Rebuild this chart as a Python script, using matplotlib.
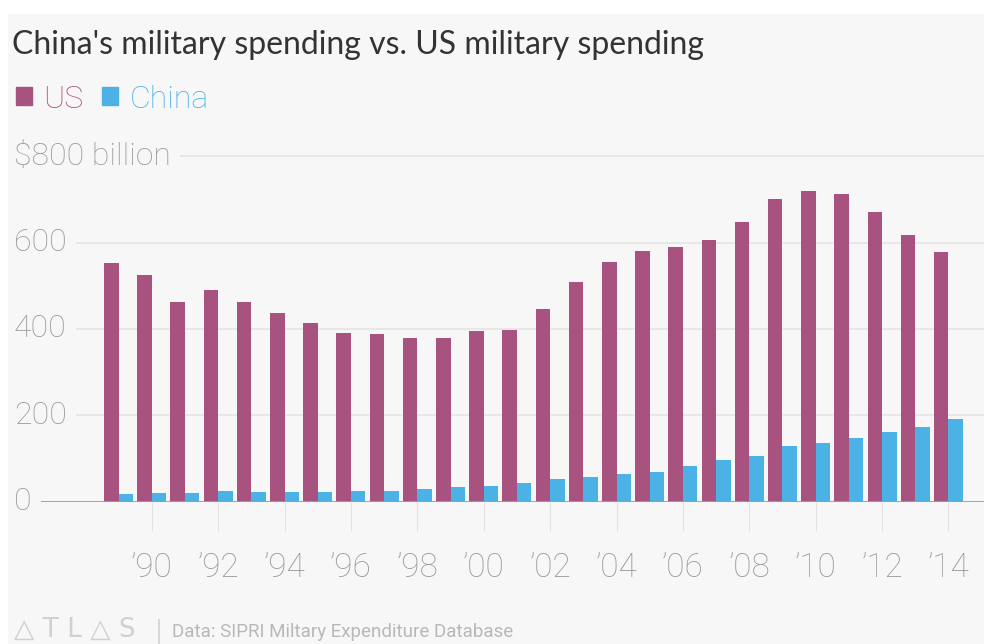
import matplotlib
matplotlib.use("Agg")
import matplotlib.pyplot as plt
from matplotlib.patches import Rectangle, Patch

# ── Data (billions USD) ─────────────────────────────────────────────────────
YEARS = list(range(1989, 2015))
US = [552, 526, 462, 490, 462, 437, 414, 391, 389, 379, 379, 396, 398,
      446, 508, 554, 581, 590, 605, 648, 700, 720, 712, 670, 618, 578]
CHINA = [17, 19.5, 21, 25, 22.5, 22, 22, 25, 25.5, 29.5, 33, 35.5, 44,
         52, 56.5, 64, 69.5, 83, 97, 106.5, 128, 135, 147, 161, 173, 191]
XTICKS = YEARS[1::2]
XTICK_LABELS = ["\u2019" + str(y)[2:] for y in XTICKS]
YTICKS = [0, 200, 400, 600, 800]
YTICK_LABELS = ["0", "200", "400", "600", "$800 billion"]

US_COLOR = "#a85280"
CHINA_COLOR = "#4cb1e4"
BG = "#f7f7f7"
LABEL_GREY = "#9a9a9a"

W, H = 984, 644
fig = plt.figure(figsize=(W / 100, H / 100), dpi=100, facecolor=BG)
# white strips on top and left edge, drawn above everything
for rect in [(0, 1 - 14 / H, 1, 14 / H), (0, 0, 8 / W, 1)]:
    fig.add_artist(Rectangle(rect[:2], rect[2], rect[3], transform=fig.transFigure,
                             facecolor="white", edgecolor="none", zorder=10))

ax = fig.add_axes([14 / W, (H - 501.7) / H, (W - 14) / W, (501.7 - 140) / H])
ax.set_facecolor("none")

bw = 0.437
ax.bar([y - bw / 2 for y in YEARS], US, width=bw, color=US_COLOR, zorder=3, label="US")
ax.bar([y + bw / 2 for y in YEARS], CHINA, width=bw, color=CHINA_COLOR, zorder=3, label="China")

ax.set_xlim(1985.85, 2015.07)
ax.set_ylim(0, 837.7)

for v in YTICKS[1:]:
    ax.axhline(v, color="#e6e6e6", linewidth=1.3, zorder=1)
ax.axhline(0, color="#9c9c9c", linewidth=1.3, zorder=4)

for v, lab in zip(YTICKS, YTICK_LABELS):
    ax.text(0, v, lab, transform=ax.get_yaxis_transform(), ha="left", va="center",
            fontsize=23, color=LABEL_GREY, family="Roboto", fontweight="light",
            zorder=5, bbox=dict(facecolor=BG, edgecolor="none", pad=7))

ax.set_yticks([])
ax.set_xticks(XTICKS)
ax.set_xticklabels(XTICK_LABELS, fontsize=24, color=LABEL_GREY,
                   family="Roboto", fontweight="light")
ax.tick_params(axis="x", direction="out", length=21, width=0.8,
               color="#e2e2e2", pad=15.5)
for s in ax.spines.values():
    s.set_visible(False)

fig.text(12 / W, 1 - 45 / H, "China's military spending vs. US military spending",
         fontsize=23, color="#333333", family="Lato", va="center", ha="left")

leg = fig.legend(handles=[Patch(color=US_COLOR), Patch(color=CHINA_COLOR)],
                 labels=["US", "China"], loc="center left",
                 bbox_to_anchor=(16 / W, 1 - 99 / H), ncol=2, frameon=False,
                 borderaxespad=0, borderpad=0,
                 handlelength=0.5, handleheight=0.5, handletextpad=0.35,
                 columnspacing=0.6, prop=dict(family="Roboto", weight="light", size=23))
for t, c in zip(leg.get_texts(), [US_COLOR, CHINA_COLOR]):
    t.set_color(c)

fig.text(14 / W, 1 - 630 / H, "\u25b3 T L \u25b3 S", fontsize=19, color="#d0d0d0",
         family=["DejaVu Sans"], va="center", ha="left")
fig.text(155 / W, 1 - 631 / H, "|", fontsize=17, color="#d8d8d8",
         family="DejaVu Sans", va="center", ha="left")
fig.text(172 / W, 1 - 632 / H, "Data: SIPRI Miltary Expenditure Database",
         fontsize=13.5, color="#b8b8b8", family="Roboto", va="center", ha="left")

fig.savefig("out.png", dpi=100, facecolor=fig.get_facecolor())
